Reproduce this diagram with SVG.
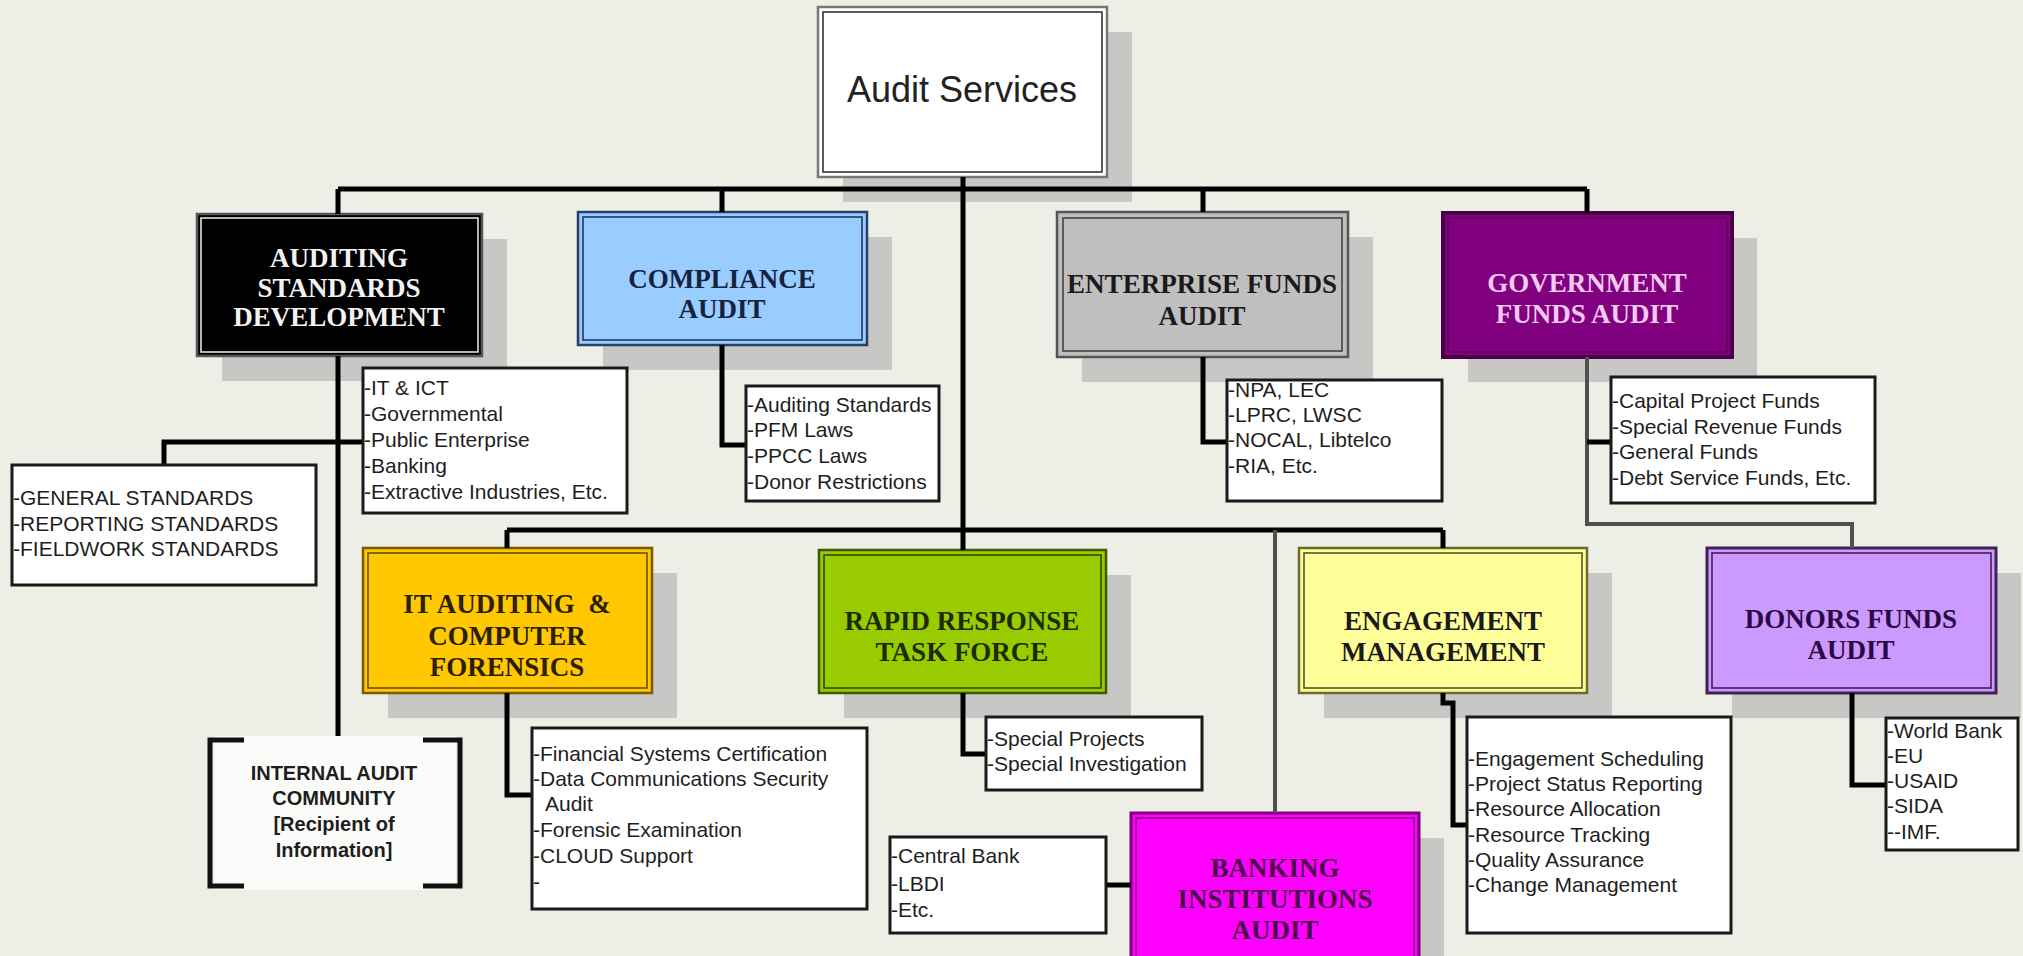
<svg xmlns="http://www.w3.org/2000/svg" width="2023" height="956" viewBox="0 0 2023 956">
<style>
.sh{fill:#c7c7c5}
.t{font-family:"Liberation Serif",serif;font-weight:bold;font-size:27px;text-anchor:middle}
.l{font-family:"Liberation Sans",Arial,sans-serif;font-size:21px;fill:#1e1e1e}
.lb{fill:#ffffff;stroke:#1a1a1a;stroke-width:3}
.c{fill:none;stroke:#000;stroke-width:5;stroke-linejoin:miter}
.cg{fill:none;stroke:#505050;stroke-width:4}
.in{fill:none;stroke-width:1.6}
</style>
<rect x="0" y="0" width="2023" height="956" fill="#edeee6"/>

<g id="audit-services">
<rect class="sh" x="843" y="32" width="289" height="170"/>
<rect x="818" y="7" width="289" height="170" fill="#ffffff" stroke="#777" stroke-width="2.5"/>
<rect class="in" x="823" y="12" width="279" height="160" stroke="#333"/>
<text x="962" y="102" font-family="Liberation Sans,Arial,sans-serif" font-size="36" fill="#222" text-anchor="middle">Audit Services</text>
</g>

<g id="auditing-standards">
<rect class="sh" x="222" y="239" width="285" height="142"/>
<rect x="197" y="214" width="285" height="142" fill="#000" stroke="#555" stroke-width="2.5"/>
<rect class="in" x="201" y="218" width="277" height="134" stroke="#e0e0e0" stroke-width="1"/>
<text class="t" fill="#f2f2f2"><tspan x="339" y="267">AUDITING</tspan><tspan x="339" y="297">STANDARDS</tspan><tspan x="339" y="326">DEVELOPMENT</tspan></text>
</g>

<g id="compliance-audit">
<rect class="sh" x="603" y="237" width="289" height="133"/>
<rect x="578" y="212" width="289" height="133" fill="#99ccff" stroke="#2a3f66" stroke-width="2.5"/>
<rect class="in" x="583" y="217" width="279" height="123" stroke="#1f3864"/>
<text class="t" fill="#15233f"><tspan x="722" y="288">COMPLIANCE</tspan><tspan x="722" y="318">AUDIT</tspan></text>
</g>

<g id="enterprise-funds-audit">
<rect class="sh" x="1082" y="237" width="291" height="145"/>
<rect x="1057" y="212" width="291" height="145" fill="#bfbfbf" stroke="#555" stroke-width="2.5"/>
<rect class="in" x="1063" y="218" width="279" height="133" stroke="#444"/>
<text class="t" fill="#1a1a1a"><tspan x="1202" y="293" textLength="270" lengthAdjust="spacingAndGlyphs">ENTERPRISE FUNDS</tspan><tspan x="1202" y="325">AUDIT</tspan></text>
</g>

<g id="government-funds-audit">
<rect class="sh" x="1468" y="238" width="289" height="144"/>
<rect x="1443" y="213" width="289" height="144" fill="#800080" stroke="#4a0046" stroke-width="4"/>
<rect class="in" x="1448" y="218" width="279" height="134" stroke="#5e005a"/>
<text class="t" fill="#f5caf2"><tspan x="1587" y="292">GOVERNMENT</tspan><tspan x="1587" y="323">FUNDS AUDIT</tspan></text>
</g>

<g id="it-auditing">
<rect class="sh" x="388" y="573" width="289" height="145"/>
<rect x="363" y="548" width="289" height="145" fill="#ffc800" stroke="#7a5c00" stroke-width="2.5"/>
<rect class="in" x="368" y="553" width="279" height="135" stroke="#6b4f00"/>
<text class="t" fill="#2a2000"><tspan x="507" y="613">IT AUDITING &#160;&amp;</tspan><tspan x="507" y="645">COMPUTER</tspan><tspan x="507" y="676">FORENSICS</tspan></text>
</g>

<g id="rapid-response">
<rect class="sh" x="844" y="575" width="287" height="143"/>
<rect x="819" y="550" width="287" height="143" fill="#99cc00" stroke="#3d5a00" stroke-width="2.5"/>
<rect class="in" x="824" y="555" width="277" height="133" stroke="#2f4a00"/>
<text class="t" fill="#1e2a00"><tspan x="962" y="630">RAPID RESPONSE</tspan><tspan x="962" y="661">TASK FORCE</tspan></text>
</g>

<g id="engagement-management">
<rect class="sh" x="1324" y="573" width="288" height="145"/>
<rect x="1299" y="548" width="288" height="145" fill="#ffff99" stroke="#6b6b2a" stroke-width="2.5"/>
<rect class="in" x="1304" y="553" width="278" height="135" stroke="#55552a"/>
<text class="t" fill="#1a1a1a"><tspan x="1443" y="630">ENGAGEMENT</tspan><tspan x="1443" y="661">MANAGEMENT</tspan></text>
</g>

<g id="donors-funds-audit">
<rect class="sh" x="1732" y="573" width="289" height="145"/>
<rect x="1707" y="548" width="289" height="145" fill="#cc99ff" stroke="#3e2456" stroke-width="3"/>
<rect class="in" x="1712" y="553" width="279" height="135" stroke="#3e2456"/>
<text class="t" fill="#2a0a45"><tspan x="1851" y="628">DONORS FUNDS</tspan><tspan x="1851" y="659">AUDIT</tspan></text>
</g>

<g id="banking-institutions-audit">
<rect class="sh" x="1156" y="838" width="288" height="140"/>
<rect x="1131" y="813" width="288" height="160" fill="#ff00ff" stroke="#800080" stroke-width="3"/>
<rect class="in" x="1136" y="818" width="278" height="150" stroke="#800080"/>
<text class="t" fill="#4a0a4a"><tspan x="1275" y="877">BANKING</tspan><tspan x="1275" y="908">INSTITUTIONS</tspan><tspan x="1275" y="939">AUDIT</tspan></text>
</g>

<g id="connectors">
<path class="c" d="M338 189 H1587"/>
<path class="c" d="M338 189 V214 M722 189 V212 M1203 189 V212 M1587 189 V213"/>
<path class="c" d="M963 177 V550"/>
<path class="c" d="M507 530 H1443 M507 530 V548 M1443 530 V548"/>
<path class="cg" d="M1275 530 V813"/>
<path class="c" d="M338 356 V740"/>
<path class="c" d="M164 465 V442 H363"/>
<path class="c" d="M722 345 V445 H746"/>
<path class="c" d="M1203 357 V442 H1227"/>
<path class="cg" d="M1587 357 V524 H1852 V548"/>
<path class="c" d="M1587 442 H1611"/>
<path class="c" d="M507 693 V795 H532"/>
<path class="c" d="M963 693 V754 H986"/>
<path class="c" stroke-width="4" d="M1443 693 V703 H1453 V825 H1467"/>
<path class="c" d="M1852 693 V785 H1886"/>
<path class="c" d="M1106 885 H1131"/>
</g>

<g id="list-auditing-standards">
<rect class="lb" x="363" y="368" width="264" height="145"/>
<text class="l"><tspan x="364" y="395">-IT &amp; ICT</tspan><tspan x="364" y="421">-Governmental</tspan><tspan x="364" y="447">-Public Enterprise</tspan><tspan x="364" y="473">-Banking</tspan><tspan x="364" y="499">-Extractive Industries, Etc.</tspan></text>
</g>

<g id="list-general-standards">
<rect class="lb" x="12" y="465" width="304" height="120"/>
<text class="l"><tspan x="13" y="505">-GENERAL STANDARDS</tspan><tspan x="13" y="531">-REPORTING STANDARDS</tspan><tspan x="13" y="556">-FIELDWORK STANDARDS</tspan></text>
</g>

<g id="list-compliance">
<rect class="lb" x="746" y="386" width="193" height="115" stroke="#444"/>
<text class="l"><tspan x="747" y="412">-Auditing Standards</tspan><tspan x="747" y="437">-PFM Laws</tspan><tspan x="747" y="463">-PPCC Laws</tspan><tspan x="747" y="489">-Donor Restrictions</tspan></text>
</g>

<g id="list-enterprise">
<rect class="lb" x="1227" y="380" width="215" height="121"/>
<text class="l"><tspan x="1228" y="397">-NPA, LEC</tspan><tspan x="1228" y="422">-LPRC, LWSC</tspan><tspan x="1228" y="447">-NOCAL, Libtelco</tspan><tspan x="1228" y="473">-RIA, Etc.</tspan></text>
</g>

<g id="list-government">
<rect class="lb" x="1611" y="377" width="264" height="126"/>
<text class="l"><tspan x="1612" y="408">-Capital Project Funds</tspan><tspan x="1612" y="434">-Special Revenue Funds</tspan><tspan x="1612" y="459">-General Funds</tspan><tspan x="1612" y="485">-Debt Service Funds, Etc.</tspan></text>
</g>

<g id="list-it">
<rect class="lb" x="532" y="728" width="335" height="181"/>
<text class="l"><tspan x="533" y="761">-Financial Systems Certification</tspan><tspan x="533" y="786">-Data Communications Security</tspan><tspan x="545" y="811">Audit</tspan><tspan x="533" y="837">-Forensic Examination</tspan><tspan x="533" y="863">-CLOUD Support</tspan><tspan x="533" y="889">-</tspan></text>
</g>

<g id="list-rapid">
<rect class="lb" x="986" y="717" width="216" height="73"/>
<text class="l"><tspan x="987" y="746">-Special Projects</tspan><tspan x="987" y="771">-Special Investigation</tspan></text>
</g>

<g id="list-banking">
<rect class="lb" x="890" y="837" width="216" height="96" stroke="#444"/>
<text class="l"><tspan x="891" y="863">-Central Bank</tspan><tspan x="891" y="891">-LBDI</tspan><tspan x="891" y="917">-Etc.</tspan></text>
</g>

<g id="list-engagement">
<rect class="lb" x="1467" y="717" width="264" height="216"/>
<text class="l"><tspan x="1468" y="766">-Engagement Scheduling</tspan><tspan x="1468" y="791">-Project Status Reporting</tspan><tspan x="1468" y="816">-Resource Allocation</tspan><tspan x="1468" y="842">-Resource Tracking</tspan><tspan x="1468" y="867">-Quality Assurance</tspan><tspan x="1468" y="892">-Change Management</tspan></text>
</g>

<g id="list-donors">
<rect class="lb" x="1886" y="718" width="132" height="132"/>
<text class="l"><tspan x="1887" y="738">-World Bank</tspan><tspan x="1887" y="763">-EU</tspan><tspan x="1887" y="788">-USAID</tspan><tspan x="1887" y="813">-SIDA</tspan><tspan x="1887" y="839">--IMF.</tspan></text>
</g>

<g id="internal-audit-community">
<rect x="214" y="736" width="242" height="154" fill="#fbfbfa"/>
<path fill="none" stroke="#111" stroke-width="5" d="M244 740 H210 V886 H244 M423 740 H460 V886 H423"/>
<text font-family="Liberation Sans,Arial,sans-serif" font-weight="bold" font-size="20" fill="#1e1e1e" text-anchor="middle"><tspan x="334" y="780">INTERNAL AUDIT</tspan><tspan x="334" y="805">COMMUNITY</tspan><tspan x="334" y="831">[Recipient of</tspan><tspan x="334" y="857">Information]</tspan></text>
</g>
</svg>
